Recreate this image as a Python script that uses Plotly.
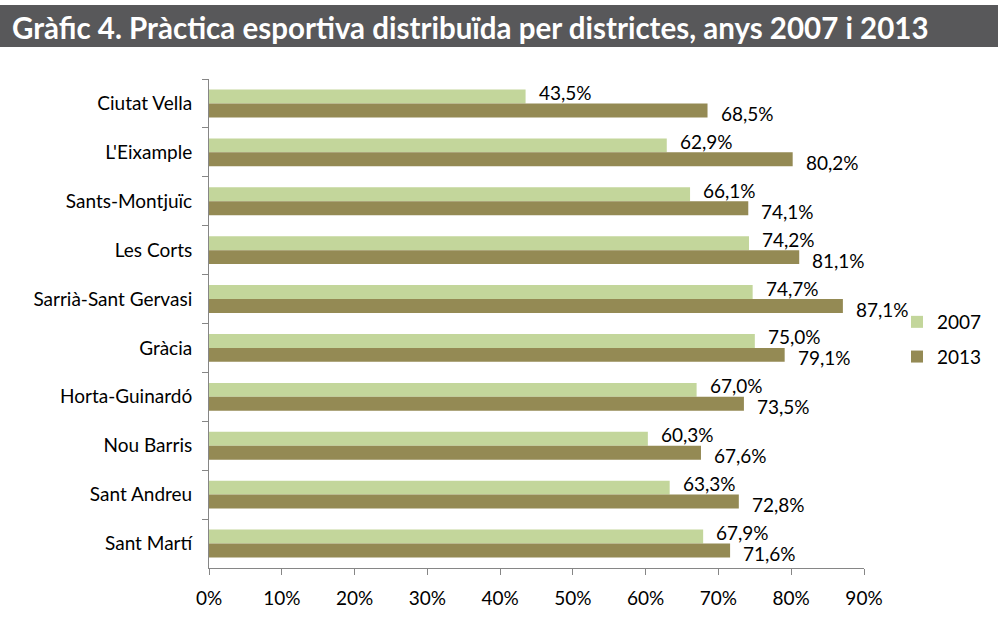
import plotly.graph_objects as go

districts = ["Ciutat Vella", "L'Eixample", "Sants-Montjuïc", "Les Corts", "Sarrià-Sant Gervasi",
             "Gràcia", "Horta-Guinardó", "Nou Barris", "Sant Andreu", "Sant Martí"]
v2007 = [43.5, 62.9, 66.1, 74.2, 74.7, 75.0, 67.0, 60.3, 63.3, 67.9]
v2013 = [68.5, 80.2, 74.1, 81.1, 87.1, 79.1, 73.5, 67.6, 72.8, 71.6]
xticks = [0, 10, 20, 30, 40, 50, 60, 70, 80, 90]
title = "Gràfic 4. Pràctica esportiva distribuïda per districtes, anys 2007 i 2013"

W, H = 998, 623
L, R, T, B = 209, 864, 79, 568

def fmt(v):
    return ("%.1f%%" % v).replace(".", ",")

font = "Lato"
fs = 19
fig = go.Figure()
fig.add_trace(go.Bar(y=districts, x=v2007, orientation="h", name="2007", legendgroup="a",
                     marker=dict(color="#C3D69B", line=dict(width=0))))
fig.add_trace(go.Bar(y=districts, x=v2013, orientation="h", name="2013", legendgroup="b",
                     marker=dict(color="#948A54", line=dict(width=0))))

for d, v in zip(districts, v2007):
    fig.add_annotation(x=v, y=d, text=fmt(v), showarrow=False, xanchor="left", yanchor="middle",
                       xshift=11, yshift=11, font=dict(family=font, size=fs, color="#000000"))
for d, v in zip(districts, v2013):
    fig.add_annotation(x=v, y=d, text=fmt(v), showarrow=False, xanchor="left", yanchor="middle",
                       xshift=11, yshift=-10, font=dict(family=font, size=fs, color="#000000"))

pw, ph = R - L, B - T
def px(x):
    return (x - L) / pw
def py(y):
    return (B - y) / ph

fig.add_shape(type="rect", xref="paper", yref="paper", x0=px(0), x1=px(W), y0=py(47), y1=py(5),
              fillcolor="#58585A", line=dict(width=0), layer="above")
fig.add_annotation(text="<b>" + title + "</b>", xref="paper", yref="paper", x=px(10), y=py(27),
                   xanchor="left", yanchor="middle", showarrow=False,
                   font=dict(family=font, size=29.5, color="#FFFFFF"))

fig.update_layout(
    width=W, height=H, margin=dict(l=L, r=W - R, t=T, b=H - B, autoexpand=False),
    paper_bgcolor="white", plot_bgcolor="white",
    barmode="group", bargap=0.43, bargroupgap=0,
    font=dict(family=font, size=fs, color="#000000"),
    showlegend=True,
    legend=dict(x=px(897), y=py(303), xanchor="left", yanchor="top",
                font=dict(size=fs, family=font), traceorder="grouped", tracegroupgap=7,
                bgcolor="rgba(0,0,0,0)"),
    xaxis=dict(range=[0, 90], tickvals=xticks, ticktext=[f"{t}%" for t in xticks],
               showgrid=False, zeroline=False, showline=True, linecolor="#868686", linewidth=1,
               ticks="outside", ticklen=6, tickcolor="#868686", tickfont=dict(size=fs),
               ticklabelstandoff=7, fixedrange=True),
    yaxis=dict(autorange="reversed", showgrid=False, zeroline=False, showline=True,
               linecolor="#868686", linewidth=1, ticks="outside", ticklen=6, tickcolor="#868686",
               tickson="boundaries", tickfont=dict(size=fs), ticklabelstandoff=12, fixedrange=True),
)

fig.write_html("out.html", config={"displayModeBar": False},
               post_script="document.body.style.margin='0';document.body.style.overflow='hidden';")
